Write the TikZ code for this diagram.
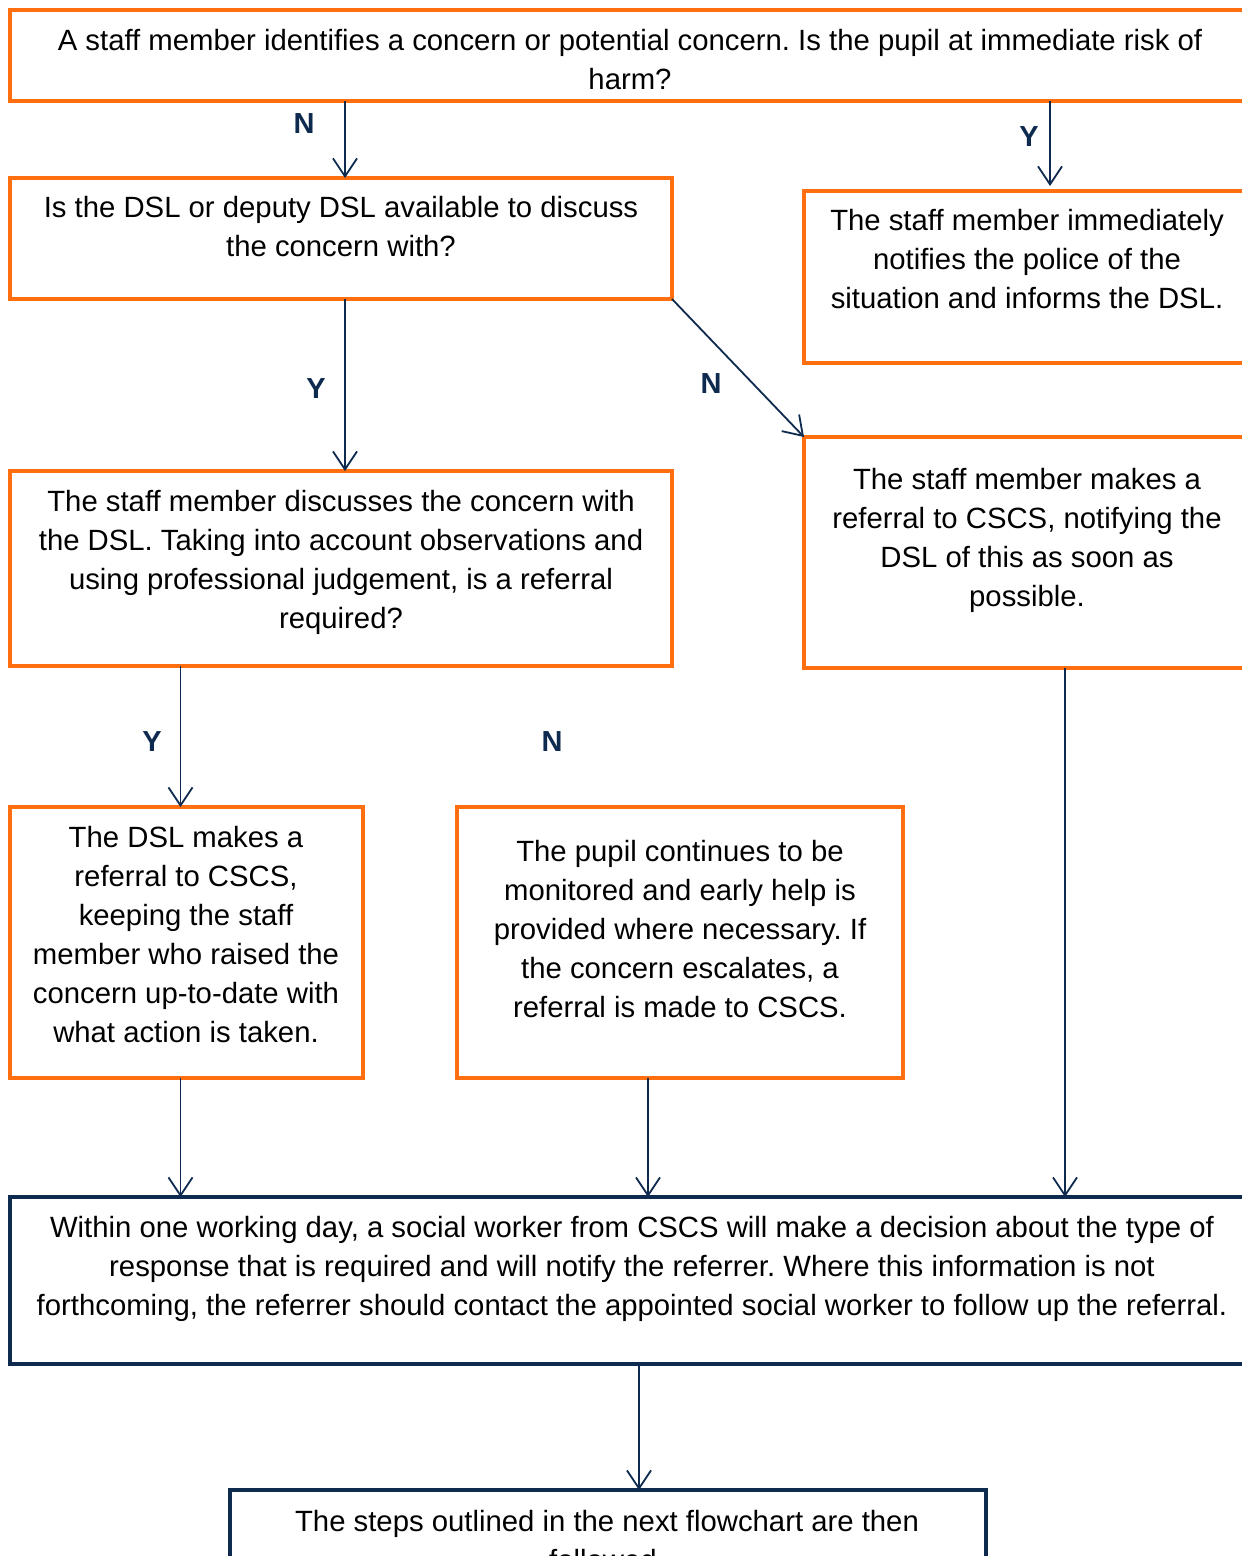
\documentclass[tikz,border=0pt]{standalone}
\usepackage{fontspec}
\setmainfont{Liberation Sans}
\usetikzlibrary{arrows.meta}
\definecolor{orng}{HTML}{FF6F0F}
\definecolor{navy}{HTML}{0E2A4F}
\frenchspacing
\begin{document}
\begin{tikzpicture}[x=1pt,y=-1pt,
  obox/.style={draw=orng, line width=4pt, inner sep=0pt, outer sep=0pt},
  nbox/.style={draw=navy, line width=4pt, inner sep=0pt, outer sep=0pt},
  txt/.style={align=center, font=\frenchspacing\fontsize{29.3}{39}\selectfont, inner sep=0pt, anchor=north, text=black, yshift=-1pt},
  lbl/.style={font=\fontsize{29}{32}\selectfont\bfseries, text=navy, inner sep=0pt},
  arr/.style={draw=navy, line width=1.8pt, -{Straight Barb[length=18pt,width=24pt,line width=1.8pt]}}]
\useasboundingbox (0,0) rectangle (1242,1556);
\clip (0,0) rectangle (1242,1556);
\fill[white] (0,0) rectangle (1242,1556);
% boxes
\node[obox, minimum width=1240pt, minimum height=91pt] (b1) at (630,55.5) {};
\node[obox, minimum width=662pt, minimum height=121pt] (b2) at (341,238.5) {};
\node[obox, minimum width=446pt, minimum height=172pt] (b3) at (1027,277) {};
\node[obox, minimum width=662pt, minimum height=195pt] (b4) at (341,568.5) {};
\node[obox, minimum width=446pt, minimum height=231pt] (b5) at (1027,552.5) {};
\node[obox, minimum width=353pt, minimum height=271pt] (b6) at (186.5,942.5) {};
\node[obox, minimum width=446pt, minimum height=271pt] (b7) at (680,942.5) {};
\node[nbox, minimum width=1240pt, minimum height=167pt] (b8) at (630,1280.5) {};
\node[nbox, minimum width=756pt, minimum height=150pt] (b9) at (608,1565) {};
% texts
\node[txt] (t1) at (630,28.5) {A staff member identifies a concern or potential concern. Is the pupil at immediate risk of\\harm?};
\node[txt] (t2) at (341,195.5) {Is the DSL or deputy DSL available to discuss\\the concern with?};
\node[txt] (t3) at (1027,208.5) {The staff member immediately\\notifies the police of the\\situation and informs the DSL.};
\node[txt] (t4) at (341,489.5) {The staff member discusses the concern with\\the DSL. Taking into account observations and\\using professional judgement, is a referral\\required?};
\node[txt] (t5) at (1027,467.5) {The staff member makes a\\referral to CSCS, notifying the\\DSL of this as soon as\\possible.};
\node[txt] (t6) at (186,825.5) {The DSL makes a\\referral to CSCS,\\keeping the staff\\member who raised the\\concern up-to-date with\\what action is taken.};
\node[txt] (t7) at (680,839.5) {The pupil continues to be\\monitored and early help is\\provided where necessary. If\\the concern escalates, a\\referral is made to CSCS.};
\node[txt] (t8) at (632,1215.5) {Within one working day, a social worker from CSCS will make a decision about the type of\\response that is required and will notify the referrer. Where this information is not\\forthcoming, the referrer should contact the appointed social worker to follow up the referral.};
\node[txt] (t9) at (607,1509.5) {The steps outlined in the next flowchart are then\\followed.};
% labels
\node[lbl] (l1) at (304,124) {N};
\node[lbl] (l2) at (1029,137) {Y};
\node[lbl] (l3) at (316,389) {Y};
\node[lbl] (l4) at (711,384) {N};
\node[lbl] (l5) at (152,742) {Y};
\node[lbl] (l6) at (552,742) {N};
% connectors
\coordinate (a1) at ([xshift=4pt]b2.north);
\draw[arr] (a1 |- b1.south) -- (a1);
\coordinate (a3) at ([xshift=23pt,yshift=5pt]b3.north);
\draw[arr] (a3 |- b1.south) -- (a3);
\coordinate (a2) at ([xshift=4pt]b2.south);
\draw[arr] (a2) -- (a2 |- b4.north);
\draw[arr] (b2.south east) -- (b5.north west);
\coordinate (a6) at ([xshift=-6pt]b6.north);
\draw[arr] (a6 |- b4.south) -- (a6);
\coordinate (c6) at ([xshift=-6pt]b6.south);
\draw[arr] (c6) -- (c6 |- b8.north);
\coordinate (a7) at ([xshift=-32pt]b7.south);
\draw[arr] (a7) -- (a7 |- b8.north);
\coordinate (a5) at ([xshift=38pt]b5.south);
\draw[arr] (a5) -- (a5 |- b8.north);
\coordinate (a8) at ([xshift=9pt]b8.south);
\draw[arr] (a8) -- (a8 |- b9.north);
\end{tikzpicture}
\end{document}
